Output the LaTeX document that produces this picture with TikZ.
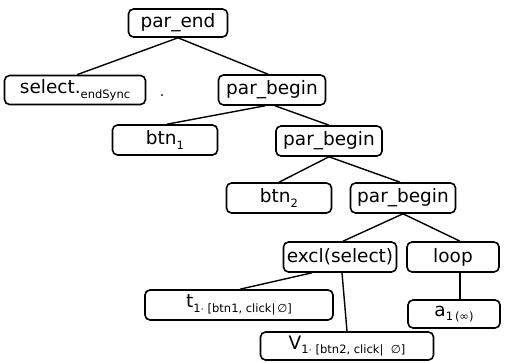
\documentclass[tikz,border=0pt]{standalone}
\usepackage{fontspec}
\setmainfont{DejaVu Sans}
\newcommand{\lowtxt}[1]{\raisebox{-0.45ex}{\fontsize{11.5}{12}\selectfont #1}}
\tikzset{
  tbox/.style={draw, rounded corners=5pt, line width=1.6pt, inner sep=0pt,
    font=\fontsize{18.5}{20}\selectfont, minimum height=30pt},
  link/.style={line width=1.4pt}
}
\begin{document}
\begin{tikzpicture}[x=1pt,y=-1pt]
\useasboundingbox (0,0) rectangle (513,363);
\node[tbox, minimum width=99pt, minimum height=28pt] (pe) at (178,23) {par\_end};
\node[tbox, minimum width=141pt, minimum height=29pt] (sel) at (75,90) {select.\lowtxt{endSync}};
\node[font=\fontsize{14}{14}\selectfont] (dot) at (162,96) {.};
\node[tbox, minimum width=107pt] (pb1) at (272,90) {par\_begin};
\node[tbox, minimum width=105pt] (btn1) at (165,140) {btn\lowtxt{1}};
\node[tbox, minimum width=106pt] (pb2) at (329,141) {par\_begin};
\node[tbox, minimum width=105pt] (btn2) at (279,198) {btn\lowtxt{2}};
\node[tbox, minimum width=105pt] (pb3) at (403,198) {par\_begin};
\node[tbox, minimum width=113pt] (excl) at (340,257) {excl(select)};
\node[tbox, minimum width=92pt] (loop) at (453,257) {loop};
\node[tbox, minimum width=188pt] (t1) at (239,305) {t\lowtxt{1$\cdot$ [btn1, click|\,∅]}};
\node[tbox, minimum width=92pt, minimum height=28pt] (a1) at (454,314) {a\lowtxt{1\,(∞)}};
\node[tbox, minimum width=173pt, minimum height=28pt] (v1) at (347,346) {V\lowtxt{1$\cdot$ [btn2, click|\ \ ∅]}};
% tree edges
\draw[link] (pe.south) -- ([xshift=2pt]sel.north);
\draw[link] (pe.south) -- ([xshift=-4pt]pb1.north);
\draw[link] ([xshift=-7pt]pb1.south) -- ([xshift=2pt]btn1.north);
\draw[link] ([xshift=3pt]pb1.south) -- (pb2.north);
\draw[link] (pb2.south) -- (btn2.north);
\draw[link] (pb2.south) -- ([xshift=-3pt]pb3.north);
\draw[link] (pb3.south) -- ([xshift=3pt]excl.north);
\draw[link] (pb3.south) -- ([xshift=7pt]loop.north);
\draw[link] ([xshift=-28pt]excl.south) -- ([xshift=1pt]t1.north);
\draw[link] ([xshift=2pt]excl.south) -- (v1.north);
\draw[link] ([xshift=7pt]loop.south) -- ([xshift=6pt]a1.north);
\end{tikzpicture}
\end{document}
